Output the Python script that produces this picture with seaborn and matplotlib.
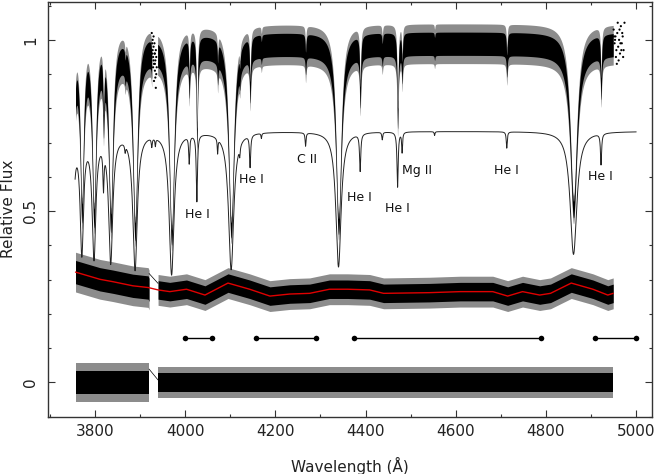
import numpy as np
import matplotlib
matplotlib.use("Agg")
import matplotlib.pyplot as plt
from matplotlib.ticker import MultipleLocator, FixedLocator, FixedFormatter
import seaborn as sns

# ---------------- data ----------------
# absorption lines of the model spectrum: centre (A), central depth, half width (A)
line_wl    = [3734, 3750, 3771, 3798, 3819, 3835, 3867, 3889, 3926, 3934, 3970, 4009, 4026, 4072,
              4102, 4121, 4144, 4169, 4267, 4340, 4388, 4437, 4471, 4481, 4553, 4713, 4861, 4922]
line_depth = [0.45, 0.45, 0.48, 0.50, 0.17, 0.52, 0.03, 0.55, 0.035, 0.03, 0.57, 0.11, 0.27, 0.06,
              0.55, 0.04, 0.13, 0.02, 0.053, 0.54, 0.15, 0.03, 0.22, 0.08, 0.015, 0.065, 0.49, 0.125]
line_hwhm  = [3.5, 4.0, 4.5, 5.0, 1.5, 5.5, 1.2, 6.0, 1.2, 1.0, 6.5, 1.3, 1.6, 1.0,
              7.0, 1.2, 1.5, 1.0, 1.2, 7.0, 1.6, 1.2, 1.6, 1.2, 1.0, 1.3, 9.0, 1.5]
model_range = [3756, 5000]
model_level = 0.733          # continuum of plotted model
obs_level = 0.99             # continuum of observed spectrum
obs_ranges = [[3757, 3926], [3939, 4949]]
obs_noise = [0.04, 0.034]    # core half-width (blue part, red part)
obs_spike = [0.065, 0.058]

# scattered points at the ends of the observed orders
dots1_wl = [3926, 3927, 3928, 3929, 3930, 3931, 3932, 3933, 3934, 3935, 3936, 3929, 3931, 3933,
            3935, 3928, 3930, 3932, 3934, 3936, 3937, 3927, 3930, 3933]
dots1_f  = [1.02, 0.99, 0.97, 0.95, 0.98, 0.93, 0.96, 0.91, 0.94, 0.97, 0.90, 0.92, 0.88, 0.96,
            0.86, 1.00, 0.94, 0.99, 0.89, 0.95, 0.92, 0.96, 1.01, 0.93]
dots2_wl = [4950, 4952, 4954, 4956, 4958, 4960, 4962, 4964, 4966, 4968, 4970, 4972, 4974, 4955,
            4961, 4967, 4953, 4959, 4971, 4957, 4951, 4963, 4965, 4969]
dots2_f  = [1.03, 0.99, 1.01, 0.97, 1.02, 0.98, 1.00, 0.96, 1.04, 0.99, 1.01, 0.97, 1.05, 0.95,
            0.94, 0.97, 1.00, 1.05, 0.95, 0.93, 1.01, 1.03, 0.99, 1.02]

# smoothed residual (red curve)
red_wl = [3757, 3811, 3840, 3884, 3918, 3940, 3966, 4003, 4044, 4095, 4143, 4188, 4232, 4276,
          4320, 4360, 4409, 4440, 4542, 4610, 4682, 4715, 4748, 4786, 4810, 4856, 4904, 4937, 4949]
red_f  = [0.322, 0.301, 0.294, 0.282, 0.277, 0.270, 0.265, 0.272, 0.255, 0.290, 0.272, 0.252,
          0.258, 0.260, 0.272, 0.272, 0.270, 0.260, 0.262, 0.265, 0.265, 0.252, 0.265, 0.255,
          0.260, 0.290, 0.272, 0.255, 0.260]
res_gap = [3920, 3940]
res_noise = [0.034, 0.027]
res_spike = [0.058, 0.045]
gap_line_top = [0.318, 0.289]
gap_line_bot = [0.039, 0.007]

# fitting windows
win_start = [4000, 4157, 4375, 4909]
win_end   = [4060, 4290, 4790, 5000]
win_level = 0.13

label_text = ["He I", "He I", "C II", "He I", "He I", "Mg II", "He I", "He I"]
label_wl   = [4027, 4146, 4270, 4387, 4471, 4513, 4713, 4920]
label_f    = [0.489, 0.591, 0.650, 0.541, 0.509, 0.620, 0.620, 0.601]

xticks = [3800, 4000, 4200, 4400, 4600, 4800, 5000]
yticks = [0, 0.5, 1]
yticklabels = ["0", "0.5", "1"]

# ---------------- figure ----------------
sns.set_theme(style="ticks")
plt.rcParams["font.family"] = ["DejaVu Sans"]
fig = plt.figure(figsize=(6.56, 4.74), dpi=100)
ax = fig.add_axes([48 / 656, 57 / 474, 604 / 656, 415.5 / 474])

wl = np.arange(model_range[0], model_range[1] + 0.01, 0.25)
prof = np.ones_like(wl)
for c, d, w in zip(line_wl, line_depth, line_hwhm):
    prof *= 1 - d / (1 + ((wl - c) / w) ** 2)

halo = "0.55"
# observed spectrum (noise drawn as an envelope)
for (a, b) in obs_ranges:
    m = (wl >= a) & (wl <= b)
    n = np.where(wl[m] < 3930, obs_noise[0], obs_noise[1])
    s = np.where(wl[m] < 3930, obs_spike[0], obs_spike[1])
    c = obs_level * prof[m]
    ax.fill_between(wl[m], c - s * np.sqrt(prof[m]), c + s * np.sqrt(prof[m]),
                    color=halo, lw=0)
    ax.fill_between(wl[m], c - n * np.sqrt(prof[m]), c + n * np.sqrt(prof[m]),
                    color="black", lw=0)
sns.scatterplot(x=dots1_wl + dots2_wl, y=dots1_f + dots2_f, ax=ax, s=2.5,
                color="black", edgecolor="none")

# model spectrum
sns.lineplot(x=wl, y=model_level * prof, ax=ax, color="#222222", lw=0.7,
             estimator=None, sort=False)

# residual bands
rw = np.array(red_wl)
rf = np.array(red_f)
for (a, b) in [(rw[0], res_gap[0]), (res_gap[1], rw[-1])]:
    m = (rw >= a - 30) & (rw <= b + 30)
    xw = np.clip(rw[m], a, b)
    blue = xw[0] < 3930
    n = res_noise[0] if blue else res_noise[1]
    s = res_spike[0] if blue else res_spike[1]
    yc = rf[m]
    ax.fill_between(xw, yc - s, yc + s, color=halo, lw=0)
    ax.fill_between(xw, yc - n, yc + n, color="black", lw=0)
    ax.fill_between(xw, -s, s, color=halo, lw=0)
    ax.fill_between(xw, -n, n, color="black", lw=0)
sns.lineplot(x=res_gap, y=gap_line_top, ax=ax, color="black", lw=0.5)
sns.lineplot(x=res_gap, y=gap_line_bot, ax=ax, color="black", lw=0.5)
sns.lineplot(x=red_wl, y=red_f, ax=ax, color="#e00000", lw=1.0, estimator=None, sort=False)

# fitting windows
for a, b in zip(win_start, win_end):
    sns.lineplot(x=[a, b], y=[win_level, win_level], ax=ax, color="black", lw=1.0,
                 marker="o", markersize=4, markeredgewidth=0)

for t, x, y in zip(label_text, label_wl, label_f):
    ax.text(x, y, t, ha="center", va="center", fontsize=9, color="#111111")

ax.set_xlim(3696, 5035)
ax.set_ylim(-0.101, 1.112)
ax.xaxis.set_major_locator(FixedLocator(xticks))
ax.xaxis.set_minor_locator(MultipleLocator(100))
ax.yaxis.set_major_locator(FixedLocator(yticks))
ax.yaxis.set_major_formatter(FixedFormatter(yticklabels))
ax.yaxis.set_minor_locator(MultipleLocator(0.1))
ax.tick_params(which="both", direction="in", top=True, right=True, color="#333333",
               labelsize=11, labelcolor="#222222")
ax.tick_params(which="major", length=5, width=0.8)
ax.tick_params(which="minor", length=2.5, width=0.8)
ax.tick_params(axis="x", pad=5)
ax.tick_params(axis="y", pad=7, labelrotation=90)
for lab in ax.get_yticklabels():
    lab.set_va("center")
for sp in ax.spines.values():
    sp.set_linewidth(1.0)
    sp.set_color("#333333")
ax.set_xlabel("Wavelength (Å)", fontsize=11, labelpad=13, color="#222222")
ax.set_ylabel("Relative Flux", fontsize=11, labelpad=5, color="#222222")

fig.savefig("out.png", dpi=100)
